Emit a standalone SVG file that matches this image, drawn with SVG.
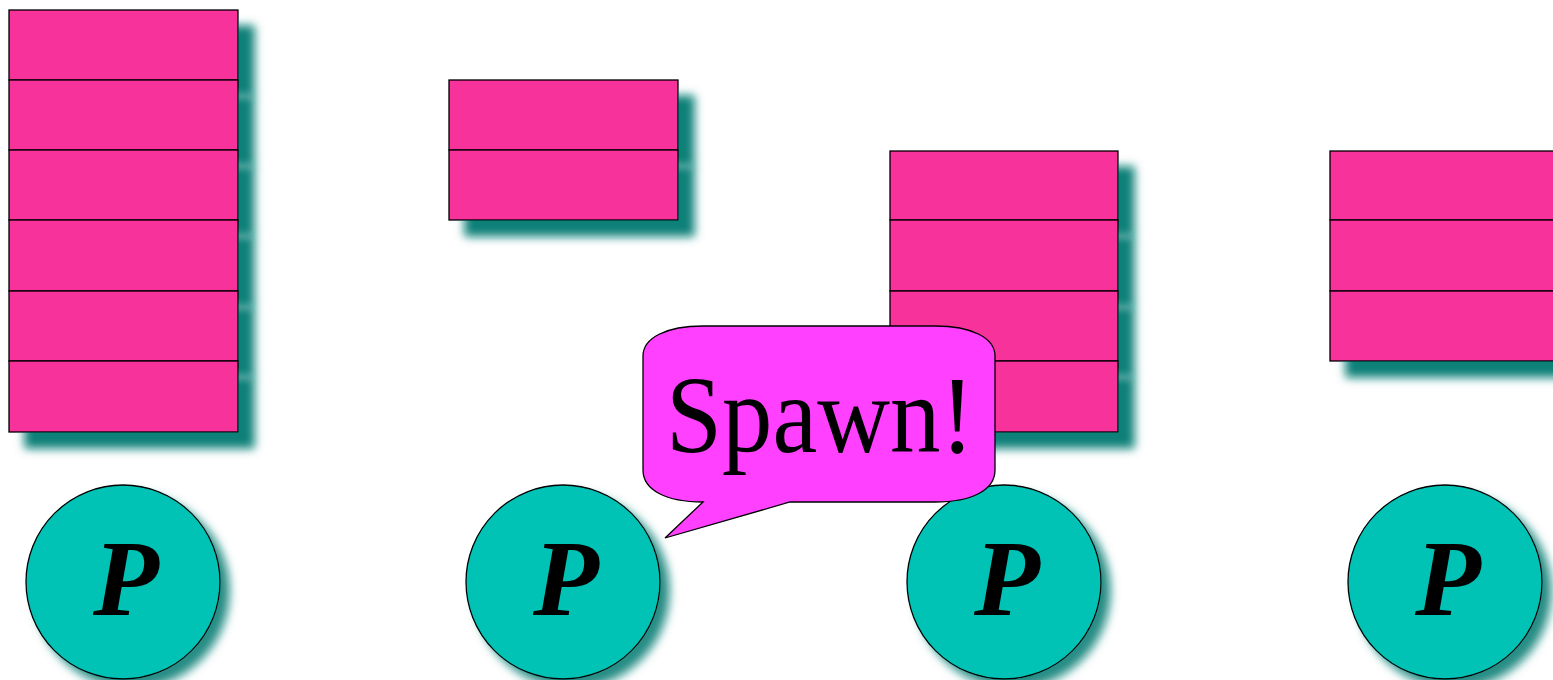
<svg xmlns="http://www.w3.org/2000/svg" width="1553" height="680" viewBox="0 0 1553 680">
  <defs>
    <filter id="shadow" x="-20%" y="-30%" width="160%" height="190%">
      <feDropShadow dx="16" dy="16" stdDeviation="5" flood-color="#118078" flood-opacity="1"/>
    </filter>
    <filter id="cshadow" x="-20%" y="-20%" width="150%" height="150%">
      <feDropShadow dx="9" dy="9" stdDeviation="5" flood-color="#118078" flood-opacity="0.9"/>
    </filter>
  </defs>
  <style>
    .row { fill: #f7319a; stroke: #000; stroke-width: 1.3; filter: url(#shadow); }
    .proc { fill: #00c2b5; stroke: #000; stroke-width: 1.3; filter: url(#cshadow); }
    .plabel { font-family: "Liberation Serif", "Times New Roman", serif; font-weight: bold; font-style: italic; font-size: 108px; fill: #000; text-anchor: middle; }
    .bubble { fill: #ff40ff; stroke: #000; stroke-width: 1.3; }
    .btext { font-family: "Liberation Serif", "Times New Roman", serif; font-size: 110px; fill: #000; }
  </style>
  <rect width="1553" height="680" fill="#fff"/>

  <!-- stack 1: six frames -->
  <g id="stack1">
    <rect class="row" x="9" y="10" width="229" height="70"/>
    <rect class="row" x="9" y="80" width="229" height="70"/>
    <rect class="row" x="9" y="150" width="229" height="70"/>
    <rect class="row" x="9" y="220" width="229" height="71"/>
    <rect class="row" x="9" y="291" width="229" height="70"/>
    <rect class="row" x="9" y="361" width="229" height="71"/>
  </g>

  <!-- stack 2: two frames -->
  <g id="stack2">
    <rect class="row" x="449" y="80" width="229" height="70"/>
    <rect class="row" x="449" y="150" width="229" height="70"/>
  </g>

  <!-- stack 3: four frames -->
  <g id="stack3">
    <rect class="row" x="890" y="151" width="228" height="69"/>
    <rect class="row" x="890" y="220" width="228" height="71"/>
    <rect class="row" x="890" y="291" width="228" height="70"/>
    <rect class="row" x="890" y="361" width="228" height="71"/>
  </g>

  <!-- stack 4: three frames -->
  <g id="stack4">
    <rect class="row" x="1330" y="151" width="229" height="69"/>
    <rect class="row" x="1330" y="220" width="229" height="71"/>
    <rect class="row" x="1330" y="291" width="229" height="70"/>
  </g>

  <!-- processes -->
  <g id="proc1">
    <circle class="proc" cx="123" cy="582" r="97"/>
    <text class="plabel" x="126" y="615">P</text>
  </g>
  <g id="proc2">
    <circle class="proc" cx="563" cy="582" r="97"/>
    <text class="plabel" x="566" y="615">P</text>
  </g>
  <g id="proc3">
    <circle class="proc" cx="1004" cy="582" r="97"/>
    <text class="plabel" x="1007" y="615">P</text>
  </g>
  <g id="proc4">
    <circle class="proc" cx="1445" cy="582" r="97"/>
    <text class="plabel" x="1448" y="615">P</text>
  </g>

  <!-- speech bubble -->
  <g id="spawn">
    <path class="bubble" d="M 703,502 L 665,538 L 790,502 L 935,502 C 972,502 995,490 995,470 L 995,356 C 995,338 972,326 935,326 L 703,326 C 666,326 643,338 643,356 L 643,470 C 643,490 666,502 703,502 Z"/>
    <text class="btext" x="666" y="452" textLength="308" lengthAdjust="spacingAndGlyphs">Spawn!</text>
  </g>
</svg>
